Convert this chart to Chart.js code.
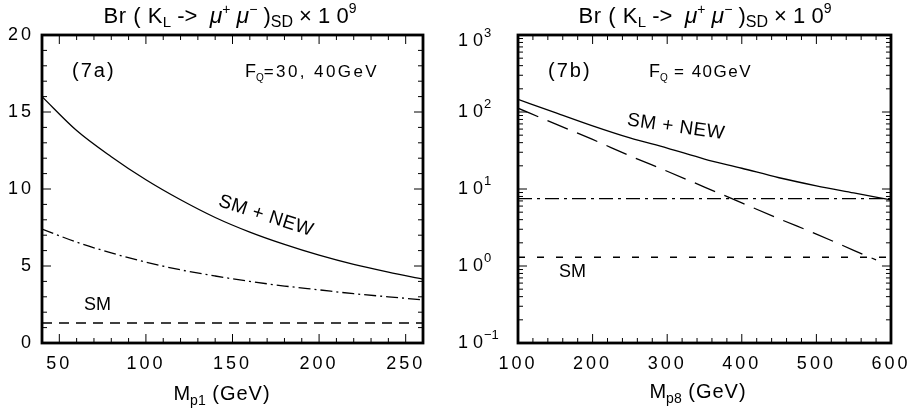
<!DOCTYPE html>
<html>
<head>
<meta charset="utf-8">
<script src="https://cdn.jsdelivr.net/npm/chart.js@4.4.0/dist/chart.umd.min.js"></script>
<style>
    body { margin: 0; background: #fff; }
    #wrap { position: relative; width: 916px; height: 411px; overflow: hidden; }
    canvas { position: absolute; top: 0; }
</style>
</head>
<body>
<div id="wrap">
    <canvas id="chart-a" width="458" height="411" style="left:0"></canvas>
    <canvas id="chart-b" width="460" height="411" style="left:456px"></canvas>
</div>
<script>
// ---- data (7a) ----
const massP1 = [40, 60, 80, 100, 120, 140, 160, 180, 200, 220, 240, 260];
const brNewA = [16.0, 13.8, 12.1, 10.6, 9.3, 8.15, 7.2, 6.4, 5.7, 5.1, 4.6, 4.15];
const brDashDotA = [7.4, 6.55, 5.85, 5.25, 4.75, 4.35, 4.0, 3.7, 3.45, 3.2, 3.0, 2.8];
const massP1Range = [40, 260];
const brSM = 1.3;
const ticksXA = [50, 100, 150, 200, 250];
const ticksYA = [0, 5, 10, 15, 20];

// ---- data (7b) ----
const massP8 = [100, 150, 200, 250, 300, 350, 400, 450, 500, 550, 600];
const brNewB = [146, 98, 66, 46, 34, 24.5, 18.6, 14, 11, 8.9, 7.2];
const massP8Dash = [100, 150, 200, 250, 300, 350, 400, 450, 500, 550, 580];
const brLongDashB = [112, 70, 44, 27, 17, 10.6, 6.6, 4.1, 2.6, 1.6, 1.2];
const massP8Range = [100, 600];
const brDashDotB = 7.5;
const ticksXB = [100, 200, 300, 400, 500, 600];
const ticksYB = [0.1, 1, 10, 100, 1000];
const expYB = ['−1', '0', '1', '2', '3'];

const FONT = "'Liberation Sans', Arial, sans-serif";

function pts(xs, ys) {
    return xs.map((x, i) => ({ x: x, y: ys[i] }));
}
function flat(xs, v) {
    return xs.map(x => ({ x: x, y: v }));
}

function fontStr(sg) {
    return `${sg.it ? 'italic ' : ''}${sg.s}px ${FONT}`;
}

function drawRich(ctx, item) {
    ctx.save();
    ctx.translate(item.x, item.y);
    if (item.rot) ctx.rotate(item.rot * Math.PI / 180);
    ctx.textAlign = 'left';
    ctx.textBaseline = item.base || 'alphabetic';
    ctx.fillStyle = '#000';
    const widths = item.segs.map(sg => {
        ctx.font = fontStr(sg);
        ctx.letterSpacing = (sg.ls || 0) + 'px';
        return ctx.measureText(sg.t).width;
    });
    const total = widths.reduce((a, b) => a + b, 0);
    let cx = item.align === 'center' ? -total / 2 : item.align === 'right' ? -total : 0;
    item.segs.forEach((sg, i) => {
        ctx.font = fontStr(sg);
        ctx.letterSpacing = (sg.ls || 0) + 'px';
        ctx.fillText(sg.t, cx, sg.dy || 0);
        cx += widths[i];
    });
    ctx.restore();
}

function titleSegs() {
    return [
        { t: 'Br ( K', s: 22, ls: 0.5 },
        { t: 'L', s: 15, dy: 4 },
        { t: ' ->  ', s: 22 },
        { t: 'μ', s: 23, it: true },
        { t: '+', s: 14, dy: -9 },
        { t: ' ', s: 22 },
        { t: 'μ', s: 23, it: true },
        { t: '−', s: 14, dy: -9 },
        { t: ' )', s: 22 },
        { t: 'SD', s: 16, dy: 4 },
        { t: ' × 1 0', s: 22 },
        { t: '9', s: 14, dy: -10 }
    ];
}

// ticks, frame and labels
const decor = {
    id: 'decor',
    beforeDraw(chart) {
        chart.ctx.letterSpacing = '3px';
    },
    afterDatasetsDraw(chart, args, o) {
        const { ctx, chartArea: a, scales: { x, y } } = chart;
        ctx.save();
        ctx.letterSpacing = '0px';
        ctx.strokeStyle = '#000';
        ctx.lineWidth = 1;
        const line = (x1, y1, x2, y2) => {
            ctx.beginPath(); ctx.moveTo(x1, y1); ctx.lineTo(x2, y2); ctx.stroke();
        };
        o.minorX.forEach(v => {
            const px = x.getPixelForValue(v);
            const len = o.majorX.includes(v) ? 9 : 5;
            line(px, a.bottom, px, a.bottom - len);
            line(px, a.top, px, a.top + len);
        });
        o.minorY.forEach(v => {
            const py = y.getPixelForValue(v);
            const len = o.majorY.includes(v) ? 9 : 5;
            line(a.left, py, a.left + len, py);
            line(a.right, py, a.right - len, py);
        });
        ctx.lineWidth = 2.8;
        ctx.strokeRect(a.left, a.top, a.width, a.height);

        if (o.expLabels) {
            o.majorY.forEach((v, i) => {
                const py = y.getPixelForValue(v) + (i === o.majorY.length - 1 ? 6 : 0);
                drawRich(ctx, {
                    x: a.left - 35, y: py, align: 'right', base: 'middle',
                    segs: [{ t: '1 0', s: 18 }]
                });
                drawRich(ctx, {
                    x: a.left - 34, y: py - 8, align: 'left', base: 'middle',
                    segs: [{ t: expYB[i], s: 13 }]
                });
            });
        }
        o.texts.forEach(t => drawRich(ctx, t));
        ctx.restore();
    }
};

function range(a, b, s) {
    const r = [];
    for (let v = a; v <= b + 1e-9; v += s) r.push(Math.round(v * 100) / 100);
    return r;
}

function logMinor() {
    const r = [];
    for (let e = -1; e < 3; e++) {
        for (let m = 1; m < 10; m++) r.push(m * Math.pow(10, e));
    }
    r.push(1000);
    return r;
}

const tickFont = { family: FONT, size: 18 };

function lineSet(data, dash, smooth) {
    return {
        data: data,
        borderColor: '#000',
        borderWidth: 1.3,
        borderDash: dash,
        pointRadius: 0,
        fill: false,
        tension: smooth ? 0.4 : 0,
        cubicInterpolationMode: smooth ? 'monotone' : 'default'
    };
}

new Chart(document.getElementById('chart-a'), {
    type: 'line',
    data: {
        datasets: [
            lineSet(pts(massP1, brNewA), [], true),
            lineSet(pts(massP1, brDashDotA), [12, 4, 2, 4], true),
            lineSet(flat(massP1Range, brSM), [10, 7], false)
        ]
    },
    options: {
        responsive: false,
        animation: false,
        layout: { padding: { top: 35, right: 35, left: 0, bottom: 0 } },
        plugins: {
            legend: { display: false },
            tooltip: { enabled: false },
            decor: {
                minorX: range(40, 260, 10),
                majorX: ticksXA,
                minorY: range(0, 20, 1),
                majorY: ticksYA,
                texts: [
                    { x: 230, y: 23, align: 'center', segs: titleSegs() },
                    { x: 72, y: 77, segs: [{ t: '(7a)', s: 20, ls: 2 }] },
                    { x: 245, y: 77, segs: [{ t: 'F', s: 18 }, { t: 'Q', s: 10, dy: 4 }, { t: '=30, 40GeV', s: 17, ls: 2.4 }] },
                    { x: 266, y: 216, rot: 18, align: 'center', base: 'middle', segs: [{ t: 'SM + NEW', s: 19, ls: 0.5 }] },
                    { x: 84, y: 310, segs: [{ t: 'SM', s: 18 }] },
                    { x: 222, y: 400, align: 'center', segs: [{ t: 'M', s: 20 }, { t: 'p1', s: 14, dy: 5 }, { t: ' (GeV)', s: 20, ls: 1 }] }
                ]
            }
        },
        scales: {
            x: {
                type: 'linear', min: 40, max: 260,
                grid: { display: false, drawTicks: false },
                border: { display: false },
                afterBuildTicks: s => { s.ticks = ticksXA.map(v => ({ value: v })); },
                afterFit: s => { s.height = 68; },
                ticks: { font: tickFont, color: '#000', padding: 10, maxRotation: 0, autoSkip: false }
            },
            y: {
                type: 'linear', min: 0, max: 20,
                grid: { display: false, drawTicks: false },
                border: { display: false },
                afterBuildTicks: s => { s.ticks = ticksYA.map(v => ({ value: v })); },
                afterFit: s => { s.width = 42; },
                ticks: { font: tickFont, color: '#000', padding: 8 }
            }
        }
    },
    plugins: [decor]
});

new Chart(document.getElementById('chart-b'), {
    type: 'line',
    data: {
        datasets: [
            lineSet(pts(massP8, brNewB), [], true),
            lineSet(pts(massP8Dash, brLongDashB), [22, 10], true),
            lineSet(flat(massP8Range, brDashDotB), [14, 5, 3, 5], false),
            lineSet(flat(massP8Range, brSM), [7, 12], false)
        ]
    },
    options: {
        responsive: false,
        animation: false,
        layout: { padding: { top: 35, right: 17, left: 0, bottom: 0 } },
        plugins: {
            legend: { display: false },
            tooltip: { enabled: false },
            decor: {
                minorX: range(100, 600, 20),
                majorX: ticksXB,
                minorY: logMinor(),
                majorY: ticksYB,
                expLabels: true,
                texts: [
                    { x: 249, y: 23, align: 'center', segs: titleSegs() },
                    { x: 92, y: 77, segs: [{ t: '(7b)', s: 20, ls: 2 }] },
                    { x: 193, y: 77, segs: [{ t: 'F', s: 18 }, { t: 'Q', s: 10, dy: 4 }, { t: ' = 40GeV', s: 17, ls: 1.5 }] },
                    { x: 220, y: 127, rot: 8, align: 'center', base: 'middle', segs: [{ t: 'SM + NEW', s: 19, ls: 0.5 }] },
                    { x: 103, y: 277, segs: [{ t: 'SM', s: 18 }] },
                    { x: 242, y: 398, align: 'center', segs: [{ t: 'M', s: 20 }, { t: 'p8', s: 14, dy: 5 }, { t: ' (GeV)', s: 20, ls: 1 }] }
                ]
            }
        },
        scales: {
            x: {
                type: 'linear', min: 100, max: 600,
                grid: { display: false, drawTicks: false },
                border: { display: false },
                afterBuildTicks: s => { s.ticks = ticksXB.map(v => ({ value: v })); },
                afterFit: s => { s.height = 68; },
                ticks: { font: tickFont, color: '#000', padding: 10, maxRotation: 0, autoSkip: false }
            },
            y: {
                type: 'logarithmic', min: 0.1, max: 1000,
                grid: { display: false, drawTicks: false },
                border: { display: false },
                afterBuildTicks: s => { s.ticks = ticksYB.map(v => ({ value: v })); },
                afterFit: s => { s.width = 62; },
                ticks: { display: false }
            }
        }
    },
    plugins: [decor]
});
</script>
</body>
</html>
